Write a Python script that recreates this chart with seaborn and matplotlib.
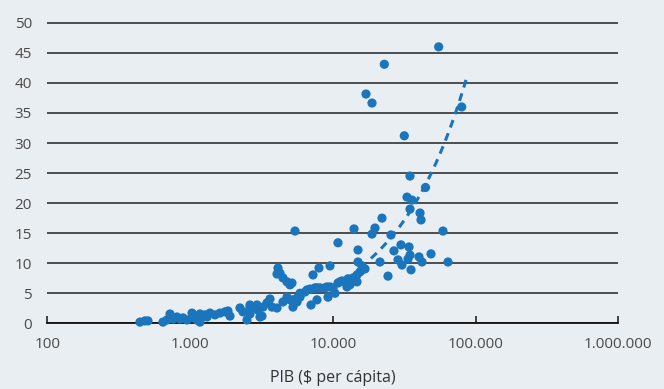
import numpy as np
import pandas as pd
import matplotlib
matplotlib.use("Agg")
import matplotlib.pyplot as plt
import seaborn as sns
from matplotlib.ticker import FixedLocator, FuncFormatter, NullLocator

# ---- data ----
gdp = [446, 483, 507, 646, 689, 724, 760, 810, 850, 892, 952,
       1032, 1048, 1119, 1174, 1174, 1213, 1273, 1314, 1379, 1495, 1621, 1757, 1844, 1905,
       2238, 2349, 2505, 2630, 2630, 2630, 2851, 2944, 2992, 3090, 3192, 3243, 3460, 3632, 3751,
       4066, 4131, 4267, 4066, 4478, 4777, 5013, 5177, 4478, 4777, 5013, 5262, 5262, 5613,
       5435, 5613, 5891, 5891, 6387, 6596, 6924, 7037, 7267, 7506, 7751, 7751, 8004, 8135,
       8817, 9256, 9108, 9559, 9559, 10032, 10360, 10874, 10874, 11230, 11598, 12574, 12778,
       13198, 13198, 13852, 14077, 14769, 14769, 15017, 15017, 15508, 16017, 16017, 16811,
       17085, 18822, 18822, 19754, 21414, 22116, 22954, 24360, 25560, 26830, 28630, 30040,
       30520, 31690, 33110, 33650, 34200, 34750, 34750, 34750, 35320, 35890, 40180, 40830,
       41490, 42170, 44600, 48740, 55180, 59160, 64120, 79980]
value = [0.2, 0.4, 0.4, 0.2, 0.55, 1.55, 0.7, 1.05, 0.7, 0.9, 0.55,
         1.7, 0.9, 0.55, 1.55, 0.2, 1.05, 1.4, 1.05, 1.7, 1.4, 1.7, 1.9, 2.05, 1.2,
         2.55, 1.9, 0.55, 3.05, 1.55, 2.7, 2.7, 3.05, 2.2, 1.05, 1.2, 2.7, 3.4, 4.05, 2.7,
         2.55, 9.2, 8.35, 8.2, 7.55, 6.9, 6.4, 6.7, 3.55, 4.35, 3.9, 2.7, 3.9, 4.2,
         15.35, 3.55, 4.35, 5.0, 5.2, 5.55, 5.7, 3.05, 8.05, 5.9, 3.9, 5.9, 9.2, 5.9,
         5.9, 4.35, 6.05, 6.05, 9.55, 5.9, 5.0, 13.4, 6.7, 6.9, 7.05, 6.05, 7.4,
         6.4, 7.2, 7.55, 15.7, 6.9, 8.05, 10.2, 12.2, 8.55, 9.55, 8.9, 9.05,
         38.15, 36.65, 14.85, 15.85, 10.2, 17.5, 43.1, 7.85, 14.7, 12.05, 10.55, 13.05,
         9.7, 31.2, 21.0, 10.7, 12.7, 24.5, 19.0, 11.35, 8.9, 20.5, 11.05, 18.35,
         17.2, 10.2, 22.6, 11.55, 46.0, 15.35, 10.2, 36.0]

# trend line (power law)
trend_start, trend_end = 18500, 86000
trend_a, trend_p = 11.0 / 18900 ** 0.862, 0.862

x_ticks = [100, 1000, 10000, 100000, 1000000]
y_ticks = [0, 5, 10, 15, 20, 25, 30, 35, 40, 45, 50]
x_label = "PIB ($ per cápita)"

# ---- style ----
bg = "#e9eef3"
blue = "#1b75bc"
sns.set_theme(style="white")
plt.rcParams["font.family"] = ["Open Sans", "DejaVu Sans"]

fig = plt.figure(figsize=(6.64, 3.89), dpi=100, facecolor=bg)
ax = fig.add_axes([47.3 / 664, 1 - 323.3 / 389, (618.3 - 47.3) / 664, (323.3 - 21.0) / 389])
ax.set_facecolor(bg)

df = pd.DataFrame({"gdp": gdp, "value": value})
sns.scatterplot(data=df, x="gdp", y="value", ax=ax, color=blue, s=44,
                edgecolor="none", linewidth=0, zorder=3, clip_on=False)

tx = np.geomspace(trend_start, trend_end, 60)
tdf = pd.DataFrame({"gdp": tx, "value": trend_a * tx ** trend_p})
sns.lineplot(data=tdf, x="gdp", y="value", ax=ax, color=blue, linewidth=2.2,
             dashes=False, zorder=4)
ax.lines[-1].set_dashes((2.6, 2.0))

ax.set_xscale("log")
ax.set_xlim(100, 1000000)
ax.set_ylim(0, 50.3)
ax.xaxis.set_major_locator(FixedLocator(x_ticks))
ax.xaxis.set_minor_locator(NullLocator())
ax.xaxis.set_major_formatter(FuncFormatter(lambda v, p: f"{int(round(v)):,}".replace(",", ".")))
ax.yaxis.set_major_locator(FixedLocator(y_ticks))

for yv in y_ticks:
    ax.axhline(yv, color="#222222", linewidth=1.1, zorder=1)

for s in ["top", "right", "left"]:
    ax.spines[s].set_visible(False)
ax.spines["bottom"].set_color("#111111")
ax.spines["bottom"].set_linewidth(1.3)
ax.spines["bottom"].set_zorder(2)

ax.tick_params(axis="x", direction="in", length=5, width=1.1, color="#111111",
               labelsize=11, labelcolor="#4a4a4a", pad=10, bottom=True)
ax.tick_params(axis="y", length=0, labelsize=11, labelcolor="#4a4a4a", pad=11)

ax.set_xlabel(x_label, fontsize=11.5, color="#333333", labelpad=13)
ax.set_ylabel("")

fig.savefig("out.png", dpi=100, facecolor=bg)
